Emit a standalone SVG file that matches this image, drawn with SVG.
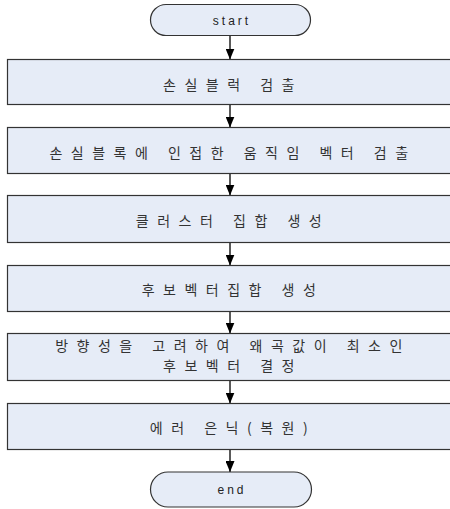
<svg xmlns="http://www.w3.org/2000/svg" width="450" height="509" viewBox="0 0 450 509">
  <defs>
    <marker id="arrow" markerWidth="11" markerHeight="9" refX="11" refY="4.5" orient="auto" markerUnits="userSpaceOnUse">
      <path d="M0,0 L11,4.5 L0,9 Z" fill="#000"/>
    </marker>
    <style>
      .box { fill: #e6ecf7; stroke: #333; stroke-width: 1.2; }
      .label { font-family: "Noto Sans CJK KR", "Noto Sans", sans-serif; font-size: 14px; fill: #333; text-anchor: middle; letter-spacing: 8.5px; }
      .term { font-family: "Liberation Sans", Arial, sans-serif; font-size: 12px; fill: #222; text-anchor: middle; letter-spacing: 3px; }
      .link { stroke: #000; stroke-width: 1.3; fill: none; marker-end: url(#arrow); }
    </style>
  </defs>

  <!-- connectors -->
  <g id="connectors">
    <line class="link" x1="230" y1="35" x2="230" y2="59.5"/>
    <line class="link" x1="230" y1="104.5" x2="230" y2="127.5"/>
    <line class="link" x1="230" y1="173.5" x2="230" y2="195.5"/>
    <line class="link" x1="230" y1="242.5" x2="230" y2="265.5"/>
    <line class="link" x1="230" y1="311.5" x2="230" y2="333.5"/>
    <line class="link" x1="230" y1="380.5" x2="230" y2="403.5"/>
    <line class="link" x1="230" y1="449.5" x2="230" y2="472"/>
  </g>

  <!-- start terminal -->
  <g id="start">
    <rect class="box" x="150.5" y="4.5" width="160" height="31" rx="15.5" ry="15.5"/>
    <text class="term" x="232" y="24.5">start</text>
  </g>

  <g id="step1">
    <rect class="box" x="7.5" y="59.5" width="446" height="45"/>
    <text class="label" x="233" y="90">손실블럭 검출</text>
  </g>

  <g id="step2">
    <rect class="box" x="7.5" y="127.5" width="446" height="46"/>
    <text class="label" x="233" y="158">손실블록에 인접한 움직임 벡터 검출</text>
  </g>

  <g id="step3">
    <rect class="box" x="7.5" y="195.5" width="446" height="47"/>
    <text class="label" x="233" y="226">클러스터 집합 생성</text>
  </g>

  <g id="step4">
    <rect class="box" x="7.5" y="265.5" width="446" height="46"/>
    <text class="label" x="233" y="295">후보벡터집합 생성</text>
  </g>

  <g id="step5">
    <rect class="box" x="7.5" y="333.5" width="446" height="47"/>
    <text class="label" x="233" y="351">방향성을 고려하여 왜곡값이 최소인</text>
    <text class="label" x="233" y="371">후보벡터 결정</text>
  </g>

  <g id="step6">
    <rect class="box" x="7.5" y="403.5" width="446" height="46"/>
    <text class="label" x="233" y="433">에러 은닉(복원)</text>
  </g>

  <!-- end terminal -->
  <g id="end">
    <rect class="box" x="150.5" y="472" width="161" height="35" rx="17.5" ry="17.5"/>
    <text class="term" x="232" y="494">end</text>
  </g>
</svg>
